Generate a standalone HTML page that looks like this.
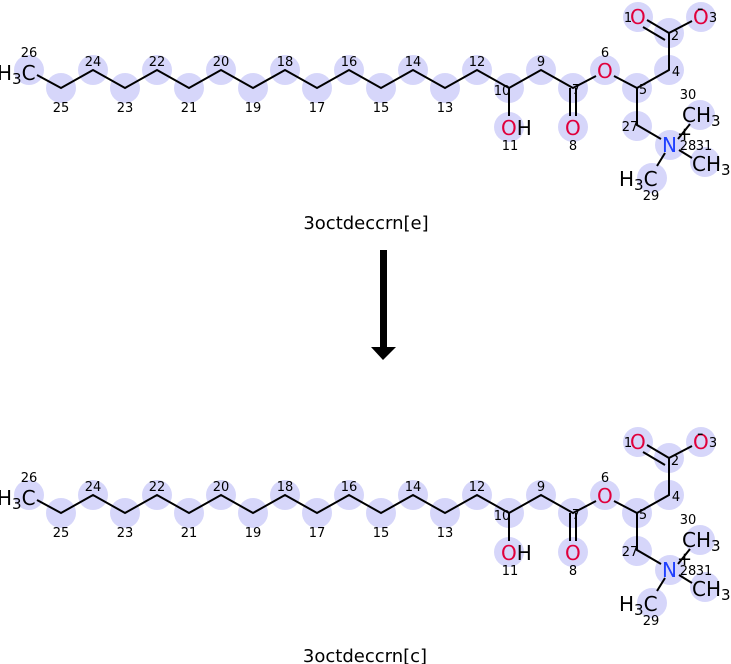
<!DOCTYPE html>
<html><head><meta charset="utf-8"><style>
html,body{margin:0;padding:0;background:#fff;width:731px;height:664px;overflow:hidden}
svg text{font-family:"DejaVu Sans","Liberation Sans",sans-serif}
</style></head><body>
<svg width="731" height="664" viewBox="0 0 731 664">
<defs>
<g id="mol">
<g fill="#d6d6fa">
<circle cx="29" cy="70" r="15"/><circle cx="61" cy="88" r="15"/><circle cx="93" cy="70" r="15"/><circle cx="125" cy="88" r="15"/><circle cx="157" cy="70" r="15"/><circle cx="189" cy="88" r="15"/><circle cx="221" cy="70" r="15"/><circle cx="253" cy="88" r="15"/><circle cx="285" cy="70" r="15"/><circle cx="317" cy="88" r="15"/><circle cx="349" cy="70" r="15"/><circle cx="381" cy="88" r="15"/><circle cx="413" cy="70" r="15"/><circle cx="445" cy="88" r="15"/><circle cx="477" cy="70" r="15"/><circle cx="509" cy="88" r="15"/><circle cx="541" cy="70" r="15"/><circle cx="573" cy="88" r="15"/><circle cx="605" cy="70" r="15"/><circle cx="637" cy="88" r="15"/><circle cx="669" cy="70" r="15"/><circle cx="669" cy="33" r="15"/><circle cx="638" cy="17" r="15"/><circle cx="701" cy="17" r="15"/><circle cx="509" cy="127" r="15"/><circle cx="573" cy="127" r="15"/><circle cx="637" cy="126" r="15"/><circle cx="670" cy="145" r="15"/><circle cx="700" cy="115" r="15"/><circle cx="705" cy="162" r="15"/><circle cx="652" cy="178" r="15"/>
</g>
<g stroke="#000" stroke-width="2" fill="none">
<polyline points="37,75 61,88 93,70 125,88 157,70 189,88 221,70 253,88 285,70 317,88 349,70 381,88 413,70 445,88 477,70 509,88 541,70 573,88 596,76"/>
<polyline points="614,76 637,88 669,70 669,33 692,21"/>
<line x1="669" y1="33" x2="647" y2="20"/><line x1="665" y1="40" x2="643" y2="27"/>
<line x1="509" y1="88" x2="509" y2="116"/>
<line x1="570" y1="88" x2="570" y2="116"/><line x1="576" y1="88" x2="576" y2="116"/>
<polyline points="637,88 637,125 661,139"/>
<line x1="678" y1="139" x2="690" y2="124"/>
<line x1="679" y1="150" x2="692" y2="158"/>
<line x1="665" y1="153" x2="657" y2="166"/>
</g>
<g font-size="20">
<text x="-3" y="80">H<tspan font-size="15" dy="4">3</tspan><tspan dy="-4">C</tspan></text>
<text x="630" y="24" fill="#e0003c">O</text><text x="693" y="24" fill="#e0003c">O</text>
<text x="597" y="78" fill="#e0003c">O</text>
<text x="501" y="135"><tspan fill="#e0003c">O</tspan>H</text>
<text x="565" y="135" fill="#e0003c">O</text>
<text x="662" y="152" fill="#2040ff">N</text>
<text x="682" y="122">CH<tspan font-size="15" dy="4">3</tspan></text>
<text x="692" y="171">CH<tspan font-size="15" dy="4">3</tspan></text>
<text x="619" y="186">H<tspan font-size="15" dy="4">3</tspan><tspan dy="-4">C</tspan></text>
<text x="677" y="140" font-size="18">+</text>
<text x="697" y="14" font-size="18">-</text>
</g>
<g font-size="13" text-anchor="middle">
<text x="29" y="57">26</text><text x="61" y="112">25</text><text x="93" y="66">24</text><text x="125" y="112">23</text><text x="157" y="66">22</text><text x="189" y="112">21</text><text x="221" y="66">20</text><text x="253" y="112">19</text><text x="285" y="66">18</text><text x="317" y="112">17</text><text x="349" y="66">16</text><text x="381" y="112">15</text><text x="413" y="66">14</text><text x="445" y="112">13</text><text x="477" y="66">12</text><text x="502" y="95">10</text><text x="541" y="66">9</text><text x="576" y="94">7</text><text x="605" y="57">6</text><text x="643" y="94">5</text><text x="676" y="76">4</text><text x="675" y="40">2</text><text x="628" y="22">1</text><text x="713" y="22">3</text><text x="510" y="150">11</text><text x="573" y="150">8</text><text x="630" y="131">27</text><text x="688" y="150">28</text><text x="704" y="150">31</text><text x="688" y="99">30</text><text x="651" y="200">29</text>
</g>
</g>
</defs>
<use href="#mol" x="0" y="0"/>
<use href="#mol" x="0" y="425"/>
<text x="366" y="229" font-size="18" text-anchor="middle">3octdeccrn[e]</text>
<text x="365" y="662" font-size="18" text-anchor="middle">3octdeccrn[c]</text>
<rect x="380" y="250" width="7" height="98" fill="#000"/>
<polygon points="371,347 396,347 383,360" fill="#000"/>
</svg>
</body></html>
